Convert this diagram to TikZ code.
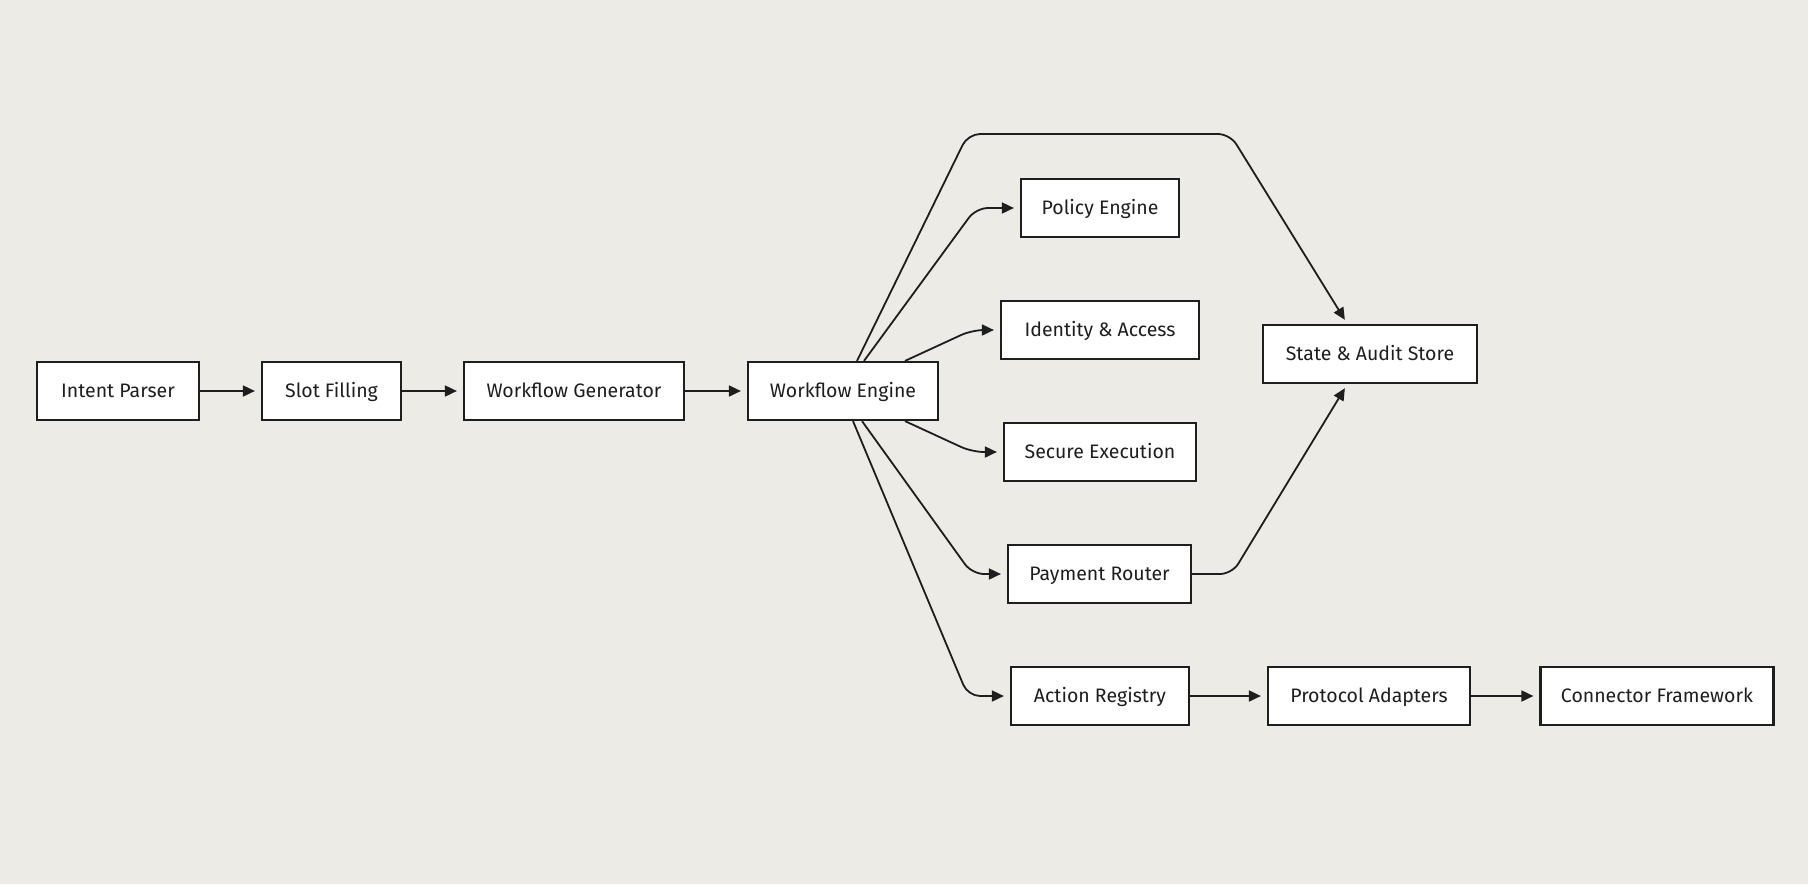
\documentclass[tikz,border=0pt]{standalone}
\usepackage{fontspec}
\setmainfont{Fira Sans}
\usetikzlibrary{arrows.meta}
\definecolor{bg}{RGB}{236,235,229}
\definecolor{ink}{RGB}{30,30,30}
\begin{document}
\begin{tikzpicture}[x=1pt,y=-1pt,
  box/.style={draw=ink,fill=white,line width=2.2pt,minimum height=58pt,inner sep=0pt,text height=16pt,text depth=3pt,font=\fontsize{19.5}{23}\selectfont,text=ink},
  conn/.style={draw=ink,line width=1.8pt,rounded corners=12pt,-{Triangle[length=12pt,width=11pt]},shorten >=6pt}]
\fill[bg] (0,0) rectangle (1808,884);
\useasboundingbox (0,0) rectangle (1808,884);
\node[box,minimum width=162pt] (ip) at (118,391) {Intent Parser};
\node[box,minimum width=139pt] (sf) at (331.5,391) {Slot Filling};
\node[box,minimum width=220pt] (wg) at (574,391) {Workflow Generator};
\node[box,minimum width=190pt] (we) at (843,391) {Workflow Engine};
\node[box,minimum width=158pt] (pe) at (1100,208) {Policy Engine};
\node[box,minimum width=198pt] (ia) at (1100,330) {Identity \& Access};
\node[box,minimum width=192pt] (se) at (1100,452) {Secure Execution};
\node[box,minimum width=183pt] (pr) at (1099.5,574) {Payment Router};
\node[box,minimum width=178pt] (ar) at (1100,696) {Action Registry};
\node[box,minimum width=202pt] (pa) at (1369,696) {Protocol Adapters};
\node[box,minimum width=233pt] (cf) at (1657,696) {Connector Framework};
\node[box,minimum width=214pt] (st) at (1370,354) {State \& Audit Store};
\coordinate (t1) at (968,134);
\coordinate (t2) at (1230,134);
\coordinate (b1) at (1232,574);
\draw[conn] (ip) -- (sf);
\draw[conn] (sf) -- (wg);
\draw[conn] (wg) -- (we);
\draw[conn] (ar) -- (pa);
\draw[conn] (pa) -- (cf);
\draw[conn] ([xshift=14pt]we.north) -- (t1) -- (t2) -- ([xshift=-22pt,yshift=-1pt]st.north);
\draw[conn] ([xshift=21pt]we.north) -- (976,208) -- (pe.west);
\draw[conn] ([xshift=62pt]we.north) -- (972,330) -- (ia.west);
\draw[conn] ([xshift=62pt]we.south) -- (972,452) -- (se.west);
\draw[conn] ([xshift=19pt]we.south) -- (972,574) -- (pr.west);
\draw[conn] ([xshift=10pt]we.south) -- (968,696) -- (ar.west);
\draw[conn] (pr.east) -- (b1) -- ([xshift=-22pt,yshift=1pt]st.south);
\end{tikzpicture}
\end{document}
